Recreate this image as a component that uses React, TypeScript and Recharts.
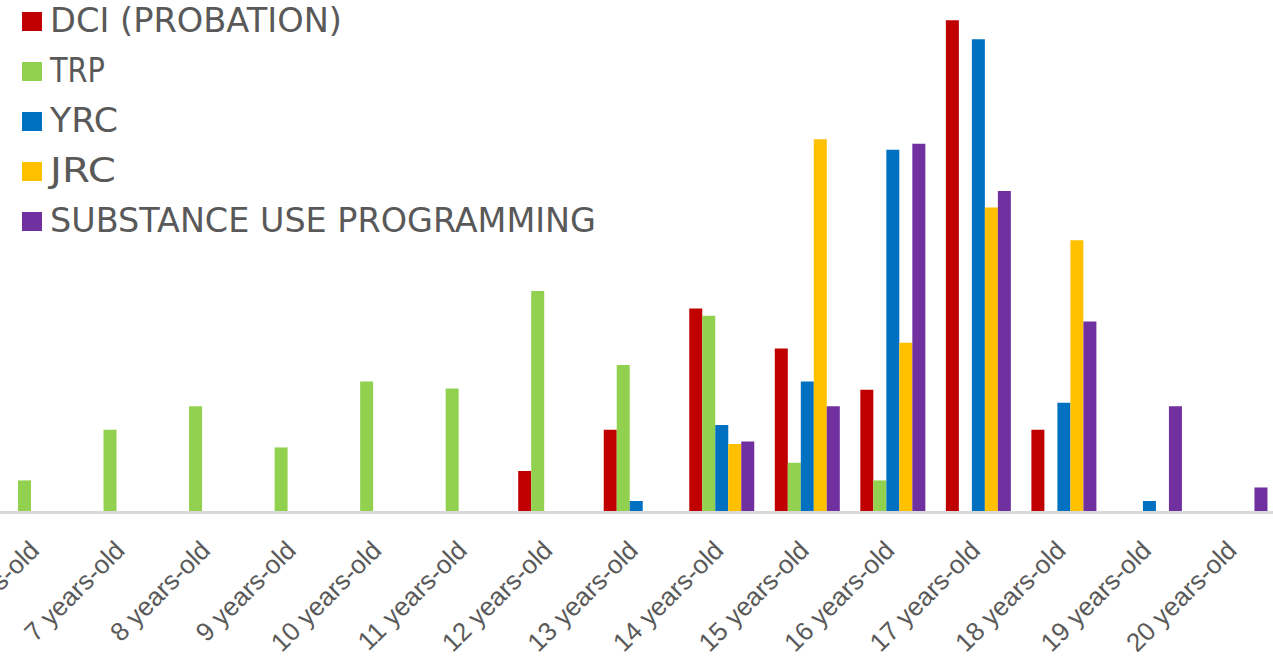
import React from 'react';
import { BarChart, Bar, XAxis, YAxis, Legend } from 'recharts';

const categories = [
  '6 years-old', '7 years-old', '8 years-old', '9 years-old', '10 years-old',
  '11 years-old', '12 years-old', '13 years-old', '14 years-old', '15 years-old',
  '16 years-old', '17 years-old', '18 years-old', '19 years-old', '20 years-old',
];
const dci = [null, null, null, null, null, null, 3.4, 6.9, 17.2, 13.8, 10.3, 41.7, 6.9, null, null];
const trp = [2.6, 6.9, 8.9, 5.4, 11.0, 10.4, 18.7, 12.4, 16.6, 4.1, 2.6, null, null, null, null];
const yrc = [null, null, null, null, null, null, null, 0.85, 7.3, 11.0, 30.7, 40.1, 9.2, 0.85, null];
const jrc = [null, null, null, null, null, null, null, null, 5.7, 31.6, 14.3, 25.8, 23.0, null, null];
const sup = [null, null, null, null, null, null, null, null, 5.9, 8.9, 31.2, 27.2, 16.1, 8.9, 2.0];

const seriesNames = ['DCI (PROBATION)', 'TRP', 'YRC', 'JRC', 'SUBSTANCE USE PROGRAMMING'];
const seriesKeys = ['dci', 'trp', 'yrc', 'jrc', 'sup'];
const seriesColors = ['#C00000', '#92D050', '#0070C0', '#FFC000', '#7030A0'];
const legendTextWidths = [292, 55, 68, 66, 546];

const data = categories.map((c, i) => ({
  age: c,
  dci: dci[i],
  trp: trp[i],
  yrc: yrc[i],
  jrc: jrc[i],
  sup: sup[i],
}));

const AgeTick = (props: any) => {
  const { x, y, payload } = props;
  return (
    <g transform={`translate(${x + 4},${y + 33})`}>
      <text
        textAnchor="end"
        transform="rotate(-45)"
        fill="#595959"
        fontSize={26}
        fontFamily="'Liberation Sans', Arial, sans-serif"
      >
        {payload.value}
      </text>
    </g>
  );
};

const LegendContent = () => (
  <svg width={620} height={250} style={{ display: 'block' }}>
    {seriesNames.map((name, i) => {
      const base = 32 + i * 50;
      return (
        <g key={name}>
          <rect x={22} y={base - 20} width={20} height={19} fill={seriesColors[i]} />
          <text
            x={50}
            y={base}
            fontSize={33}
            fill="#595959"
            fontFamily="'DejaVu Sans', sans-serif"
            textLength={legendTextWidths[i]}
            lengthAdjust="spacingAndGlyphs"
          >
            {name}
          </text>
        </g>
      );
    })}
  </svg>
);

export default function App() {
  return (
    <div style={{ position: 'fixed', left: 0, top: 0, width: 1273, height: 662, overflow: 'hidden', background: '#fff' }}>
      <div style={{ position: 'absolute', left: -6, top: 0 }}>
        <BarChart
          width={1283}
          height={662}
          data={data}
          margin={{ top: 5, right: 0, bottom: 0, left: 0 }}
          barCategoryGap={11}
          barGap={0}
        >
          <XAxis
            dataKey="age"
            interval={0}
            height={151}
            tickLine={false}
            axisLine={{ stroke: '#D9D9D9', strokeWidth: 3, transform: 'translate(0 1.5)' } as any}
            tick={<AgeTick />}
          />
          <YAxis hide domain={[0, 43]} />
          <Legend
            layout="vertical"
            verticalAlign="middle"
            align="center"
            content={<LegendContent />}
            wrapperStyle={{ top: 0, left: 6, width: 620, height: 250 }}
          />
          {seriesKeys.map((k, i) => (
            <Bar key={k} dataKey={k} name={seriesNames[i]} fill={seriesColors[i]} isAnimationActive={false} />
          ))}
        </BarChart>
      </div>
    </div>
  );
}
